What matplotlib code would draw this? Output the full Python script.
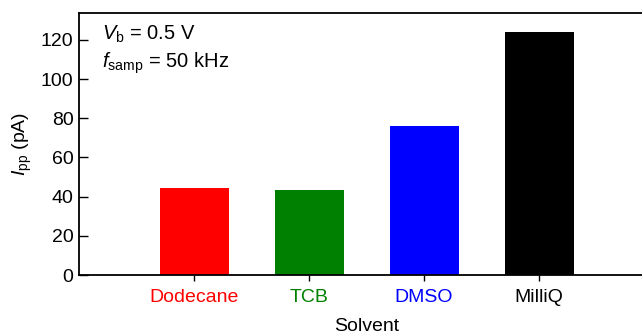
import matplotlib
matplotlib.use("Agg")
import matplotlib.pyplot as plt

plt.rcParams['font.family'] = ['Liberation Sans', 'DejaVu Sans']
plt.rcParams['mathtext.fontset'] = 'custom'
plt.rcParams['mathtext.rm'] = 'Liberation Sans'
plt.rcParams['mathtext.it'] = 'Liberation Sans:italic'

categories = ["Dodecane", "TCB", "DMSO", "MilliQ"]
values = [44.2, 43.4, 75.9, 123.8]
colors = ["#ff0000", "#008000", "#0000ff", "#000000"]
yticks = [0, 20, 40, 60, 80, 100, 120]

fig = plt.figure(figsize=(6.42, 3.36), dpi=100)
ax = fig.add_axes([79/642, (336-275)/336, 575/642, (275-13)/336])

pos = list(range(1, len(categories) + 1))
ax.bar(pos, values, width=0.6, color=colors)
ax.set_xlim(0, 5)
ax.set_ylim(0, 133.7)
ax.set_xticks(pos)
ax.set_xticklabels(categories, fontsize=14)
for lbl, c in zip(ax.get_xticklabels(), colors):
    lbl.set_color(c)
ax.set_yticks(yticks)
ax.tick_params(axis='y', direction='in', length=6.5, width=1, labelsize=14, pad=4)
ax.tick_params(axis='x', direction='out', length=4, width=1, pad=6)
for s in ax.spines.values():
    s.set_linewidth(1.3)
ax.spines['right'].set_visible(False)

ax.set_xlabel("Solvent", fontsize=14, labelpad=9)
ax.set_ylabel(r"$\mathit{I}_{\mathrm{pp}}$ (pA)", fontsize=14, labelpad=5)

ax.text(0.04, 0.92, r"$\mathit{V}_{\mathrm{b}}$ = 0.5 V", transform=ax.transAxes,
        fontsize=14.5, va='center', ha='left')
ax.text(0.04, 0.81, r"$\mathit{f}_{\mathrm{samp}}$ = 50 kHz", transform=ax.transAxes,
        fontsize=14.5, va='center', ha='left')

fig.savefig("out.png", dpi=100)
